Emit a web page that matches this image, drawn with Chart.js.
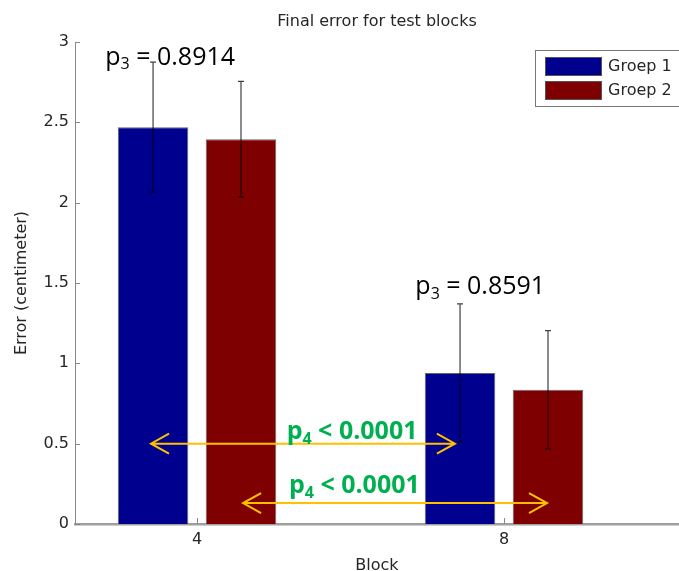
<!DOCTYPE html>
<html>
<head>
<meta charset="utf-8">
<script src="https://cdn.jsdelivr.net/npm/chart.js@4.4.1/dist/chart.umd.min.js"></script>
<style>
  html, body { margin: 0; padding: 0; background: #fff; }
  #wrap { width: 679px; height: 571px; position: relative; }
</style>
</head>
<body>
<div id="wrap"><canvas id="myChart"></canvas></div>
<script>
// chart values
const blocks = [4, 8];
const groep1 = [2.47, 0.94];
const groep2 = [2.395, 0.835];
const err1 = [0.405, 0.43];
const err2 = [0.36, 0.368];
const xRange = [2.41, 10.28];
const yRange = [0, 3];

// annotations (data units)
const p3Text = ['0.8914', '0.8591'];
const p3X = [3.65, 7.69];
const p3Y = [2.857, 1.43];
const p4Text = ['0.0001', '0.0001'];
const p4X = [6.02, 6.05];
const p4Y = [0.527, 0.191];
const arrowFrom = [3.4, 4.6];
const arrowTo = [7.36, 8.56];
const arrowY = [0.5, 0.13];

const txtFont = 'DejaVu Sans';
const txtColor = '#262626';

function toXY(vals) {
	return vals.map((v, i) => ({ x: blocks[i], y: v }));
}

// text with a subscript, centred on cx, baseline at by
function subText(ctx, cx, by, main, sub, rest, size, weight, color) {
	const fam = '"Open Sans", "Noto Sans", sans-serif';
	const big = `${weight} ${size}px ${fam}`;
	const small = `${weight} ${Math.round(size * 0.62)}px ${fam}`;
	ctx.font = big;
	const w1 = ctx.measureText(main).width;
	const w3 = ctx.measureText(rest).width;
	ctx.font = small;
	const w2 = ctx.measureText(sub).width;
	let x0 = cx - (w1 + w2 + w3) / 2;
	ctx.fillStyle = color;
	ctx.textAlign = 'left';
	ctx.textBaseline = 'alphabetic';
	ctx.font = big;
	ctx.fillText(main, x0, by);
	ctx.font = small;
	ctx.fillText(sub, x0 + w1, by + size * 0.18);
	ctx.font = big;
	ctx.fillText(rest, x0 + w1 + w2, by);
}

const innerTicks = {
	id: 'innerTicks',
	beforeDatasetsDraw(chart) {
		const { ctx, chartArea, scales: { x, y } } = chart;
		ctx.save();
		ctx.strokeStyle = '#888';
		ctx.lineWidth = 1;
		ctx.beginPath();
		y.ticks.forEach(t => {
			const py = Math.round(y.getPixelForValue(t.value)) + 0.5;
			ctx.moveTo(chartArea.left, py);
			ctx.lineTo(chartArea.left + 5, py);
		});
		x.ticks.forEach(t => {
			const px = Math.round(x.getPixelForValue(t.value)) + 0.5;
			ctx.moveTo(px, chartArea.bottom);
			ctx.lineTo(px, chartArea.bottom - 6);
		});
		ctx.stroke();
		ctx.restore();
	}
};

const errorBars = {
	id: 'errorBars',
	afterDatasetsDraw(chart) {
		const ctx = chart.ctx, y = chart.scales.y;
		ctx.save();
		ctx.strokeStyle = 'rgba(0,0,0,0.75)';
		ctx.lineWidth = 1.2;
		chart.data.datasets.forEach((ds, i) => {
			chart.getDatasetMeta(i).data.forEach((bar, j) => {
				const v = ds.data[j].y, e = ds.errors[j];
				const top = y.getPixelForValue(v + e);
				const bot = y.getPixelForValue(v - e);
				ctx.beginPath();
				ctx.moveTo(bar.x, top);
				ctx.lineTo(bar.x, bot);
				ctx.moveTo(bar.x - 3, top);
				ctx.lineTo(bar.x + 3, top);
				ctx.moveTo(bar.x - 3, bot);
				ctx.lineTo(bar.x + 3, bot);
				ctx.stroke();
			});
		});
		ctx.restore();
	}
};

const boxLegend = {
	id: 'boxLegend',
	afterDraw(chart) {
		const { ctx, chartArea } = chart;
		const left = chartArea.right - 144, top = chartArea.top + 8;
		ctx.save();
		ctx.fillStyle = '#fff';
		ctx.strokeStyle = '#777';
		ctx.lineWidth = 1;
		ctx.fillRect(left, top, 150, 57);
		ctx.strokeRect(left + 0.5, top + 0.5, 150, 56);
		chart.data.datasets.forEach((ds, i) => {
			const sy = top + 7 + i * 24;
			ctx.fillStyle = ds.backgroundColor;
			ctx.fillRect(left + 10, sy, 57, 19);
			ctx.strokeStyle = '#555';
			ctx.strokeRect(left + 10.5, sy + 0.5, 56, 18);
			ctx.fillStyle = txtColor;
			ctx.font = `16px "${txtFont}"`;
			ctx.textAlign = 'left';
			ctx.textBaseline = 'middle';
			ctx.fillText(ds.label, left + 73, sy + 10);
		});
		ctx.restore();
	}
};

const notes = {
	id: 'notes',
	afterDraw(chart) {
		const { ctx, scales: { x, y } } = chart;
		ctx.save();
		ctx.strokeStyle = '#FFC000';
		ctx.lineWidth = 2;
		arrowFrom.forEach((x0, i) => {
			const a = x.getPixelForValue(x0);
			const b = x.getPixelForValue(arrowTo[i]);
			const py = y.getPixelForValue(arrowY[i]);
			ctx.beginPath();
			ctx.moveTo(a, py);
			ctx.lineTo(b, py);
			ctx.moveTo(a + 18, py - 10);
			ctx.lineTo(a, py);
			ctx.lineTo(a + 18, py + 10);
			ctx.moveTo(b - 18, py - 10);
			ctx.lineTo(b, py);
			ctx.lineTo(b - 18, py + 10);
			ctx.stroke();
		});
		p3Text.forEach((t, i) => {
			subText(ctx, x.getPixelForValue(p3X[i]), y.getPixelForValue(p3Y[i]), 'p', '3', ' = ' + t, 25, 'normal', '#000');
		});
		p4Text.forEach((t, i) => {
			subText(ctx, x.getPixelForValue(p4X[i]), y.getPixelForValue(p4Y[i]), 'p', '4', ' < ' + t, 25, 'bold', '#00B050');
		});
		ctx.restore();
	}
};

const myChart = new Chart(document.getElementById('myChart'), {
	type: 'bar',
	data: {
		datasets: [{
			label: 'Groep 1',
			data: toXY(groep1),
			errors: err1,
			backgroundColor: '#00008F',
			borderColor: '#666',
			borderWidth: 1
		}, {
			label: 'Groep 2',
			data: toXY(groep2),
			errors: err2,
			backgroundColor: '#7F0000',
			borderColor: '#666',
			borderWidth: 1
		}]
	},
	options: {
		responsive: true,
		maintainAspectRatio: false,
		animation: false,
		devicePixelRatio: 1,
		categoryPercentage: 0.573,
		barPercentage: 0.802,
		layout: { padding: 0 },
		plugins: {
			legend: { display: false },
			tooltip: { enabled: false },
			title: {
				display: true,
				text: 'Final error for test blocks',
				fullSize: false,
				color: txtColor,
				font: { family: txtFont, size: 16, weight: 'normal' },
				padding: { top: 12, bottom: 10.8 }
			}
		},
		scales: {
			x: {
				type: 'linear',
				offset: false,
				min: xRange[0],
				max: xRange[1],
				afterBuildTicks: s => { s.ticks = blocks.map(v => ({ value: v })); },
				afterFit: s => { s.height = 47; },
				grid: { display: false, drawTicks: false },
				border: { display: true, color: '#a0a0a0', width: 2.5 },
				ticks: {
					padding: 6,
					color: txtColor,
					font: { family: txtFont, size: 16 },
					callback: v => String(v)
				},
				title: {
					display: true,
					text: 'Block',
					color: txtColor,
					font: { family: txtFont, size: 16, lineHeight: 0.6 },
					padding: 0
				}
			},
			y: {
				min: yRange[0],
				max: yRange[1],
				afterFit: s => { s.width = 75; },
				grid: { display: false, drawTicks: false },
				border: { display: true, color: '#888', width: 1 },
				ticks: {
					stepSize: 0.5,
					padding: 6,
					color: txtColor,
					font: { family: txtFont, size: 16 },
					callback: v => String(v)
				},
				title: {
					display: true,
					text: 'Error (centimeter)',
					color: txtColor,
					font: { family: txtFont, size: 16 },
					padding: { top: 12, bottom: 0 }
				}
			}
		}
	},
	plugins: [innerTicks, errorBars, boxLegend, notes]
});
</script>
</body>
</html>
